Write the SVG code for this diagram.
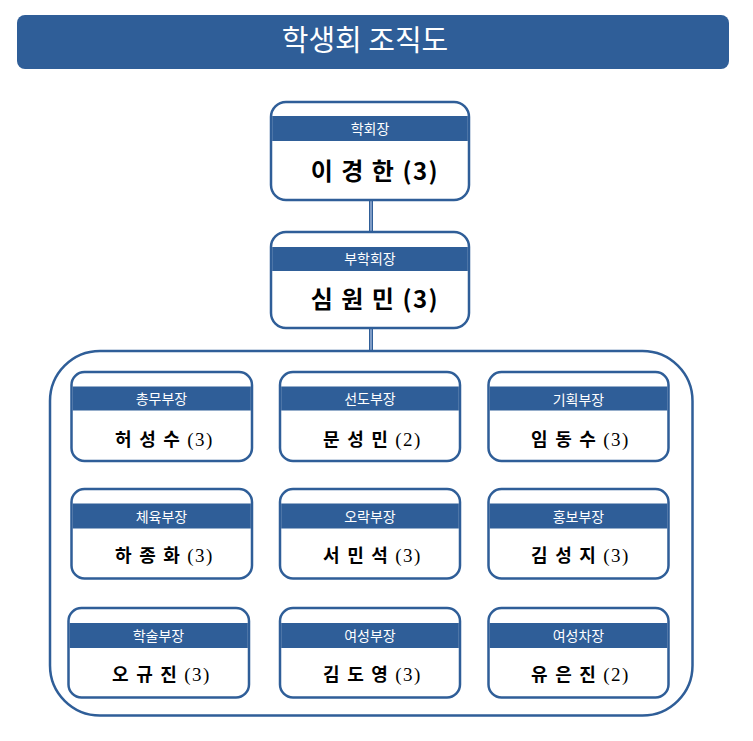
<svg xmlns="http://www.w3.org/2000/svg" width="753" height="741" viewBox="0 0 753 741">
<style>
.box{fill:#fff;stroke:#2F5E98;stroke-width:2.5}
.band{fill:#2F5E98}
.role{font-family:"Noto Sans CJK KR","Noto Sans",sans-serif;font-size:14px;fill:#fff;text-anchor:middle}
.big{font-family:"Noto Sans CJK KR","Noto Sans",sans-serif;font-size:24px;font-weight:bold;fill:#000;text-anchor:middle;letter-spacing:1.5px}
.name{font-family:"Liberation Serif","Noto Sans CJK KR",serif;font-size:18px;font-weight:bold;fill:#000;text-anchor:middle;letter-spacing:1.5px}
.num{font-weight:normal;font-size:19px}
.conn{fill:#7F9CC6;stroke:#2F5E98;stroke-width:1}
</style>
<rect width="753" height="741" fill="#fff"/>
<g id="title">
<rect x="17" y="15" width="712" height="54" rx="8" fill="#2F5E98"/>
<text x="365" y="51" font-family="Noto Sans CJK KR,Noto Sans,sans-serif" font-size="29" fill="#fff" text-anchor="middle">학생회 조직도</text>
</g>
<g id="connectors">
<rect class="conn" x="369.5" y="200" width="3" height="32"/>
<rect class="conn" x="369.5" y="328" width="3" height="23"/>
</g>
<g id="container">
<rect x="50" y="351" width="642.5" height="364.5" rx="50" fill="none" stroke="#2F5E98" stroke-width="2.5"/>
</g>
<g id="president">
<rect class="box" x="271" y="102" width="198" height="98" rx="15"/>
<rect class="band" x="272.2" y="116" width="195.6" height="25"/>
<text class="role" x="370" y="134">학회장</text>
<text class="big" x="375" y="180">이 경 한 (3)</text>
</g>
<g id="vice">
<rect class="box" x="271" y="232" width="198" height="96" rx="15"/>
<rect class="band" x="272.2" y="247" width="195.6" height="24"/>
<text class="role" x="370" y="264">부학회장</text>
<text class="big" x="375" y="308">심 원 민 (3)</text>
</g>
<g id="n1">
<rect class="box" x="71.5" y="372" width="180.5" height="89" rx="13"/>
<rect class="band" x="72.7" y="386.5" width="178.1" height="24"/>
<text class="role" x="161.5" y="404">총무부장</text>
<text class="name" x="164.5" y="446">허 성 수 <tspan class="num">(3)</tspan></text>
</g>
<g id="n2">
<rect class="box" x="280" y="372" width="180" height="89" rx="13"/>
<rect class="band" x="281.2" y="386.5" width="177.6" height="24"/>
<text class="role" x="370" y="404">선도부장</text>
<text class="name" x="372.5" y="446">문 성 민 <tspan class="num">(2)</tspan></text>
</g>
<g id="n3">
<rect class="box" x="488.5" y="372" width="180" height="89" rx="13"/>
<rect class="band" x="489.7" y="386.5" width="177.6" height="24"/>
<text class="role" x="578.5" y="405">기획부장</text>
<text class="name" x="580.5" y="446">임 동 수 <tspan class="num">(3)</tspan></text>
</g>
<g id="n4">
<rect class="box" x="71.5" y="489" width="180.5" height="89.5" rx="13"/>
<rect class="band" x="72.7" y="503.5" width="178.1" height="25"/>
<text class="role" x="161.5" y="522">체육부장</text>
<text class="name" x="164.5" y="562">하 종 화 <tspan class="num">(3)</tspan></text>
</g>
<g id="n5">
<rect class="box" x="280" y="489" width="180" height="89.5" rx="13"/>
<rect class="band" x="281.2" y="503.5" width="177.6" height="25"/>
<text class="role" x="370" y="522">오락부장</text>
<text class="name" x="372.5" y="562">서 민 석 <tspan class="num">(3)</tspan></text>
</g>
<g id="n6">
<rect class="box" x="488.5" y="489" width="180" height="89.5" rx="13"/>
<rect class="band" x="489.7" y="503.5" width="177.6" height="25"/>
<text class="role" x="578.5" y="522">홍보부장</text>
<text class="name" x="580.5" y="562">김 성 지 <tspan class="num">(3)</tspan></text>
</g>
<g id="n7">
<rect class="box" x="68.5" y="608" width="180.5" height="89.5" rx="13"/>
<rect class="band" x="69.7" y="623" width="178.1" height="25"/>
<text class="role" x="158.5" y="641">학술부장</text>
<text class="name" x="161.5" y="681">오 규 진 <tspan class="num">(3)</tspan></text>
</g>
<g id="n8">
<rect class="box" x="280" y="608" width="180" height="89.5" rx="13"/>
<rect class="band" x="281.2" y="623" width="177.6" height="25"/>
<text class="role" x="370" y="641">여성부장</text>
<text class="name" x="372.5" y="681">김 도 영 <tspan class="num">(3)</tspan></text>
</g>
<g id="n9">
<rect class="box" x="488.5" y="608" width="180" height="89.5" rx="13"/>
<rect class="band" x="489.7" y="623" width="177.6" height="25"/>
<text class="role" x="578.5" y="641">여성차장</text>
<text class="name" x="580.5" y="681">유 은 진 <tspan class="num">(2)</tspan></text>
</g>
</svg>
